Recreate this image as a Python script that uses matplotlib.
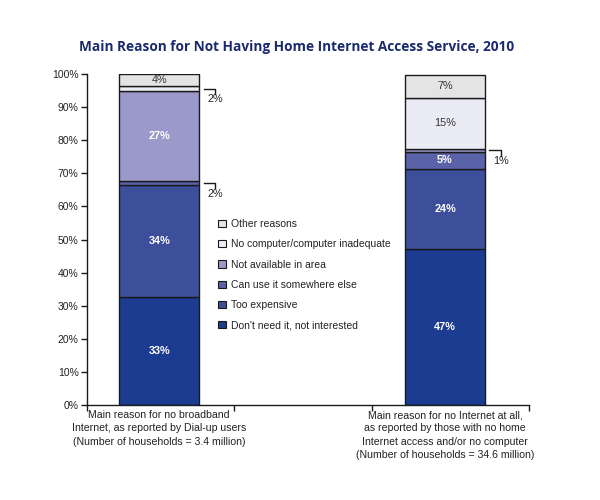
import matplotlib
matplotlib.use("Agg")
import matplotlib.pyplot as plt
from matplotlib.patches import Patch

# ---- data ----
categories = [
    "Main reason for no broadband\nInternet, as reported by Dial-up users\n(Number of households = 3.4 million)",
    "Main reason for no Internet at all,\nas reported by those with no home\nInternet access and/or no computer\n(Number of households = 34.6 million)",
]
series_names = [
    "Don't need it, not interested",
    "Too expensive",
    "Can use it somewhere else",
    "Not available in area",
    "No computer/computer inadequate",
    "Other reasons",
]
# values per series: [dial-up, no internet]
dont_need = [32.5, 47.1]
too_expensive = [33.9, 24.3]
use_elsewhere = [1.4, 5.1]
not_available = [27.0, 0.8]
no_computer = [1.5, 15.5]
other = [3.7, 7.0]
series_values = [dont_need, too_expensive, use_elsewhere, not_available, no_computer, other]

labels_left = ["33%", "34%", "2%", "27%", "2%", "4%"]
labels_right = ["47%", "24%", "5%", "1%", "15%", "7%"]
bar_labels = [labels_left, labels_right]
ytick_labels = ["0%", "10%", "20%", "30%", "40%", "50%", "60%", "70%", "80%", "90%", "100%"]

# ---- style ----
colors = ["#1c3c91", "#3d4f9b", "#5a62a8", "#9a99c9", "#ebebf5", "#e4e4e4"]
# label mode: 'in_w' white bold inside, 'in_d' dark inside, 'out' callout
modes_left = ["in_w", "in_w", "out", "in_w", "out", "in_d"]
modes_right = ["in_w", "in_w", "in_w", "out", "in_d", "in_d"]
modes = [modes_left, modes_right]

positions = [0.49, 2.43]
width = 0.543

fig = plt.figure(figsize=(6, 5), dpi=100)
ax = fig.add_axes([87/600, 1-405/500, (529-87)/600, (405-74)/500])

bottoms = [0.0, 0.0]
for si, vals in enumerate(series_values):
    ax.bar(positions, vals, width=width, bottom=bottoms, color=colors[si],
           edgecolor="#1a1a1a", linewidth=1.0, zorder=2)
    for bi in range(2):
        mid = bottoms[bi] + vals[bi] / 2
        m = modes[bi][si]
        lab = bar_labels[bi][si]
        if m == "in_w":
            ax.text(positions[bi], mid, lab, ha="center", va="center", color="white",
                    fontsize=7.8, fontweight="bold", family="Liberation Sans", zorder=3)
        elif m == "in_d":
            ax.text(positions[bi], mid, lab, ha="center", va="center", color="#333333",
                    fontsize=7.8, family="Liberation Sans", zorder=3)
        else:
            x0 = positions[bi] + width / 2 + 0.03
            x1 = x0 + 0.08
            ax.plot([x0, x1, x1], [mid, mid, mid - 1.6], color="#1a1a1a", lw=1.0,
                    clip_on=False, zorder=3)
            ax.text(x1, mid - 1.7, lab, ha="center", va="top", color="#222222",
                    fontsize=7.8, family="Liberation Sans")
    bottoms = [bottoms[i] + vals[i] for i in range(2)]

ax.set_xlim(0, 3)
ax.set_ylim(0, 100)
ax.set_yticks(range(0, 101, 10))
ax.set_yticklabels(ytick_labels, fontsize=7.5, family="Liberation Sans", color="#222222")
ax.set_xticks([0, 1, 1.934, 3])
ax.set_xticklabels([])
ax.tick_params(axis="both", direction="out", length=4, width=1.0, color="#1a1a1a")
ax.tick_params(axis="y", pad=2)
for s in ["top", "right"]:
    ax.spines[s].set_visible(False)
for s in ["left", "bottom"]:
    ax.spines[s].set_color("#1a1a1a")
    ax.spines[s].set_linewidth(1.0)

for bi, cat in enumerate(categories):
    ax.text(positions[bi], -1.6, cat, ha="center", va="top", fontsize=7.6,
            family="Liberation Sans", color="#222222", linespacing=1.4,
            transform=ax.transData)

handles = [Patch(facecolor=colors[i], edgecolor="#1a1a1a", linewidth=0.8)
           for i in range(len(series_names))][::-1]
leg = ax.legend(handles, series_names[::-1], loc="upper left",
                bbox_to_anchor=(213/600, 1-214/500), bbox_transform=fig.transFigure,
                frameon=False, prop={"family": "Liberation Sans", "size": 7.5},
                handlelength=0.7, handleheight=0.7, handletextpad=0.5,
                labelspacing=0.98, borderpad=0)
for t in leg.get_texts():
    t.set_color("#222222")

fig.text(297/600, 1-47/500, "Main Reason for Not Having Home Internet Access Service, 2010",
         ha="center", va="center", fontsize=9.8, fontweight="bold",
         family="Open Sans", color="#1a2a6c")

fig.savefig("out.png", dpi=100)
